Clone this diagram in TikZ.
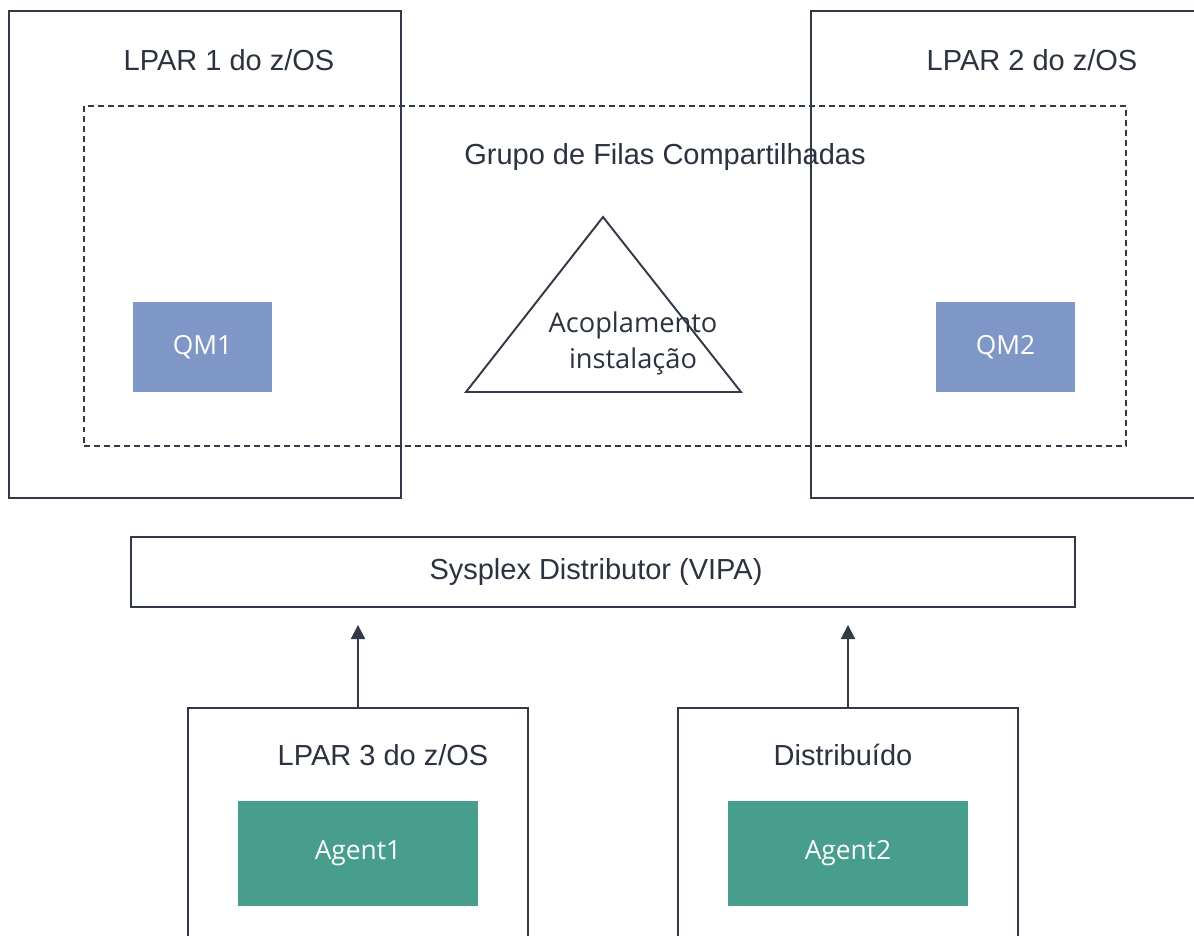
\documentclass[tikz,border=0pt]{standalone}
\usepackage{fontspec}
\setmainfont{Liberation Sans}
\newfontfamily\plexfont{Open Sans}
\usepackage{tikz}
\usetikzlibrary{arrows.meta,positioning}
\definecolor{zLine}{HTML}{333A47}
\definecolor{zText}{HTML}{2B3240}
\definecolor{qmBlue}{HTML}{7F97C7}
\definecolor{agentGreen}{HTML}{479E8C}
\tikzset{
  lpar/.style={
    rectangle,
    draw=zLine,
    line width=1.1pt,
    fill=none
  },
  title/.style={
    text=zText,
    font=\fontsize{16.5}{19}\selectfont,
    inner sep=0pt
  },
  qmgr/.style={
    rectangle,
    fill=qmBlue,
    text=white,
    font=\plexfont\fontsize{15}{18}\selectfont,
    minimum width=2.78cm,
    minimum height=1.8cm
  },
  agent/.style={
    rectangle,
    fill=agentGreen,
    text=white,
    font=\plexfont\fontsize{15}{18}\selectfont,
    minimum width=4.8cm,
    minimum height=2.1cm
  },
  qsg/.style={
    rectangle,
    draw=zLine,
    line width=1.1pt,
    dash pattern=on 3.4pt off 2.3pt
  },
  arrow/.style={-{Triangle[length=8pt,width=8pt]}, line width=1.1pt, draw=zLine}
}

\begin{document}
\begin{tikzpicture}[x=0.02cm,y=-0.02cm]
  \clip (0,0) rectangle (1194,936);
  \fill[white] (0,0) rectangle (1194,936);

  \node[lpar, minimum width=7.84cm, minimum height=9.74cm] (lpar1) at (205,254.5) {};
  \node[lpar, minimum width=7.88cm, minimum height=9.74cm] (lpar2) at (1008,254.5) {};
  \node[title] (lpar1title) at (229,60) {LPAR 1 do z/OS};
  \node[title] (lpar2title) at (1032,60) {LPAR 2 do z/OS};

  \node[qsg, minimum width=20.84cm, minimum height=6.8cm] (group) at (605,276) {};
  \node[title] (grouptitle) at (665,157) {Grupo de Filas Compartilhadas};

  \node[qmgr] (qm1) at (202.5,347) {QM1};
  \node[qmgr] (qm2) at (1005.5,347) {QM2};

  % coupling facility
  \coordinate (cftop) at (603,217);
  \coordinate (cfright) at (741,392);
  \coordinate (cfleft) at (466,392);
  \draw[draw=zLine, line width=1.1pt, line join=miter] (cftop) -- (cfright) -- (cfleft) -- cycle;
  \node[text=zText, font=\plexfont\fontsize{15.5}{20.5}\selectfont, align=center] (cf) at (633,343) {Acoplamento\\instalação};

  \node[lpar, minimum width=18.88cm, minimum height=1.4cm] (sysplex) at (603,572) {};
  \node[title] (sysplextitle) at (596,572) {Sysplex Distributor (VIPA)};

  \node[lpar, minimum width=6.8cm, minimum height=5.04cm] (lpar3) at (358,834) {};
  \node[lpar, minimum width=6.8cm, minimum height=5.04cm] (dist) at (848,834) {};
  \node[title] (lpar3title) at (383,755) {LPAR 3 do z/OS};
  \node[title] (disttitle) at (843,755) {Distribuído};

  \node[agent] (agent1) at (358,853.5) {Agent1};
  \node[agent] (agent2) at (848,853.5) {Agent2};

  \draw[arrow, shorten >=0.34cm] (lpar3.north) -- (lpar3.north |- sysplex.south);
  \draw[arrow, shorten >=0.34cm] (dist.north) -- (dist.north |- sysplex.south);
\end{tikzpicture}
\end{document}
